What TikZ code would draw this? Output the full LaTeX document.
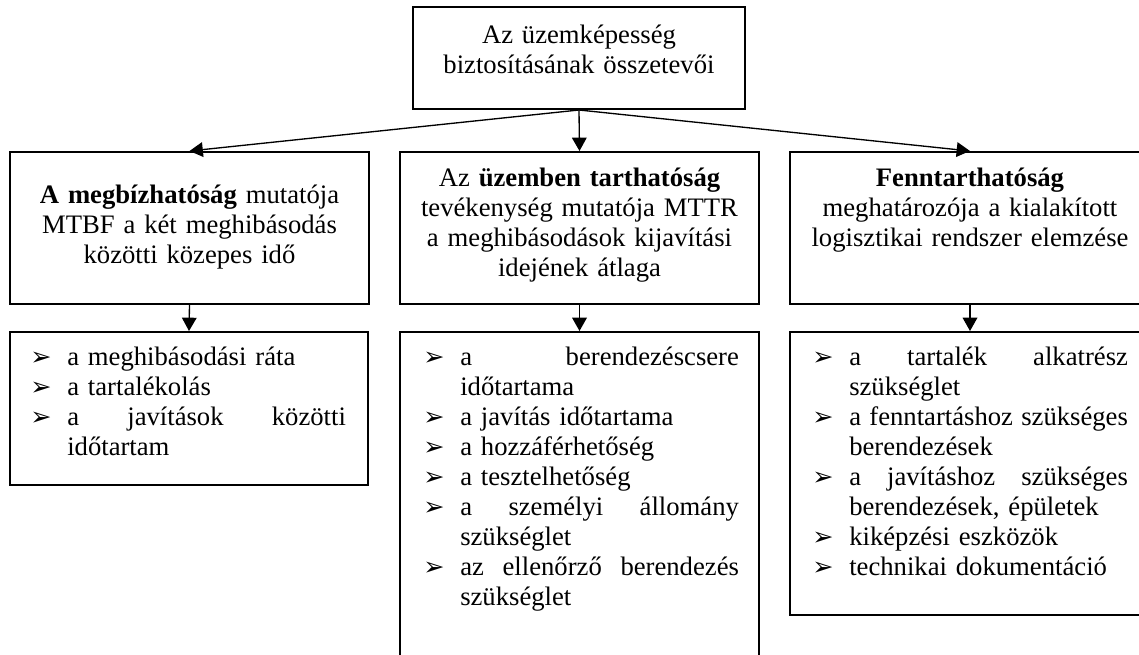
\documentclass[tikz,border=0pt]{standalone}
\usepackage{fontspec}
\setmainfont{Liberation Serif}
\newfontfamily\bulfont{DejaVu Sans}
\usetikzlibrary{arrows.meta}
\usetikzlibrary{positioning}

\newcommand{\bul}{\makebox[27.75pt][l]{\bulfont\fontsize{19pt}{19pt}\selectfont ➢}}
\newcommand{\jl}[1]{\makebox[209pt][s]{#1}}
\newcommand{\cont}{\hspace*{27.75pt}}

\begin{document}
\begin{tikzpicture}[x=0.75pt,y=0.75pt,yscale=-1,xscale=1]

     \tikzstyle{box} = [draw = black,
                        line width = 1.5pt,
                        inner sep = 0pt]
     \tikzstyle{head} = [inner sep = 0pt,
                        anchor = base,
                        align = center,
                        text width = 260pt,
                        font = \fontsize{20pt}{22.5pt}\selectfont]
     \tikzstyle{lst} = [inner sep = 0pt,
                        anchor = base west,
                        align = left,
                        text width = 237pt,
                        font = \fontsize{20pt}{22.5pt}\selectfont]
     \tikzstyle{arrow} = [line width = 1pt,-{Triangle[length=10pt,width=11pt]}]

\useasboundingbox (0,0) rectangle (1139,655);
\clip (0,0) rectangle (1139,655);

% boxes
\node [box, minimum width = 249pt, minimum height = 76.5pt] (top) at (579,58) {};
\node [box, minimum width = 269.25pt, minimum height = 114pt] (b1) at (189.5,228) {};
\node [box, minimum width = 269.25pt, minimum height = 114pt] (b2) at (579.5,228) {};
\node [box, minimum width = 270pt, minimum height = 114pt] (b3) at (970,228) {};
\node [box, minimum width = 268.5pt, minimum height = 114.75pt] (c1) at (189,408.5) {};
\node [box, minimum width = 269.25pt, minimum height = 276pt] (c2) at (579.5,516) {};
\node [box, minimum width = 270pt, minimum height = 212.25pt] (c3) at (970,473.5) {};

% texts
\node [head] (ttop) at (579,44) {Az üzemképesség\\biztosításának összetevői};
\node [head] (tb1) at (189.5,204) {\textbf{A megbízhatóság} mutatója\\MTBF a két meghibásodás\\közötti közepes idő};
\node [head] (tb2) at (579.5,187) {Az \textbf{üzemben tarthatóság}\\tevékenység mutatója MTTR\\a meghibásodások kijavítási\\idejének átlaga};
\node [head] (tb3) at (970,187) {\textbf{Fenntarthatóság}\\meghatározója a kialakított\\logisztikai rendszer elemzése};

\node [lst] (tc1) at (30,366) {\bul a meghibásodási ráta\\
  \bul a tartalékolás\\
  \bul\jl{a\hfill javítások\hfill közötti}\\
  \cont időtartam};
\node [lst] (tc2) at (423,366) {\bul\jl{a\hfill berendezéscsere}\\
  \cont időtartama\\
  \bul a javítás időtartama\\
  \bul a hozzáférhetőség\\
  \bul a tesztelhetőség\\
  \bul\jl{a\hfill személyi\hfill állomány}\\
  \cont szükséglet\\
  \bul\jl{az\hfill ellenőrző\hfill berendezés}\\
  \cont szükséglet};
\node [lst] (tc3) at (812,366) {\bul\jl{a\hfill tartalék\hfill alkatrész}\\
  \cont szükséglet\\
  \bul\jl{a\hfill fenntartáshoz\hfill szükséges}\\
  \cont berendezések\\
  \bul\jl{a\hfill javításhoz\hfill szükséges}\\
  \cont berendezések, épületek\\
  \bul kiképzési eszközök\\
  \bul technikai dokumentáció};

% arrows
\draw[arrow] (top.south) -- (b1.north);
\draw[arrow] (top.south) -- (b2.north);
\draw[arrow] (top.south) -- (b3.north);
\draw[arrow] (b1.south) -- (c1.north);
\draw[arrow] (b2.south) -- (c2.north);
\draw[arrow] (b3.south) -- (c3.north);

\end{tikzpicture}
\end{document}
